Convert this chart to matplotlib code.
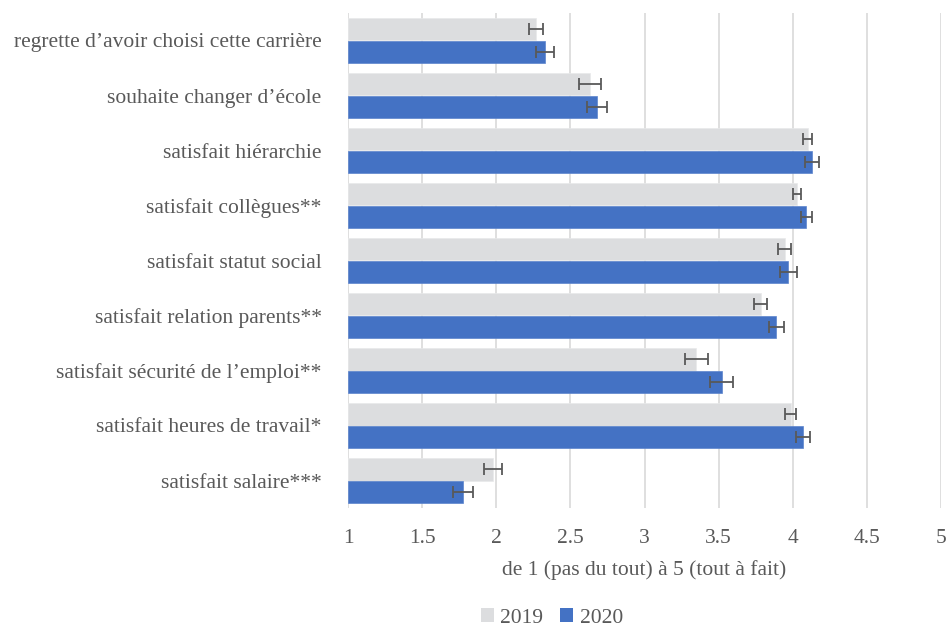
import matplotlib
matplotlib.use("Agg")
import matplotlib.pyplot as plt
import numpy as np
from matplotlib.patches import Patch

categories = [
    "regrette d\u2019avoir choisi cette carrière",
    "souhaite changer d\u2019école",
    "satisfait hiérarchie",
    "satisfait collègues**",
    "satisfait statut social",
    "satisfait relation parents**",
    "satisfait sécurité de l\u2019emploi**",
    "satisfait heures de travail*",
    "satisfait salaire***",
]
values_2019 = [2.27, 2.63, 4.10, 4.03, 3.945, 3.785, 3.35, 3.985, 1.98]
values_2020 = [2.33, 2.68, 4.13, 4.09, 3.97, 3.89, 3.52, 4.07, 1.775]
err_2019 = [0.047, 0.075, 0.03, 0.027, 0.045, 0.044, 0.077, 0.04, 0.062]
err_2020 = [0.06, 0.065, 0.05, 0.037, 0.056, 0.05, 0.077, 0.046, 0.067]
series_labels = ["2019", "2020"]
xticks = [1, 1.5, 2, 2.5, 3, 3.5, 4, 4.5, 5]
xtick_labels = ["1", "1.5", "2", "2.5", "3", "3.5", "4", "4.5", "5"]
xlabel = "de 1 (pas du tout) à 5 (tout à fait)"

c2019 = "#DCDDDF"
c2020 = "#4472C4"
txt = "#595959"
font = ["Liberation Serif", "DejaVu Serif"]
fs = 15.5

fig = plt.figure(figsize=(9.49, 6.28), dpi=100)
ax = fig.add_axes([348 / 949, 1 - 508 / 628, (941 - 348) / 949, (508 - 13) / 628])

n = len(categories)
y = np.arange(n)
h = 0.404
base = 1
w19 = [v - base for v in values_2019]
w20 = [v - base for v in values_2020]
ekw = dict(ecolor="#595959", elinewidth=1.3, capsize=4, capthick=1.3)
ax.barh(y - h / 2, w19, height=h, left=base, color=c2019, xerr=err_2019,
        error_kw=ekw, edgecolor="#E8E9EA", linewidth=0.5, zorder=2)
ax.barh(y + h / 2, w20, height=h, left=base, color=c2020, xerr=err_2020,
        error_kw=ekw, edgecolor="#5B84CC", linewidth=0.5, zorder=2)

ax.set_xlim(1, 5)
ax.set_ylim(n - 0.5, -0.5)
ax.set_xticks(xticks)
ax.set_xticklabels(xtick_labels, family=font, fontsize=fs, color=txt)
ax.set_yticks(y)
ax.set_yticklabels(categories, family=font, fontsize=fs, color=txt)
ax.tick_params(axis="both", length=0)
ax.tick_params(axis="x", pad=15)
ax.tick_params(axis="y", pad=19)
ax.grid(axis="x", color="#D9D9D9", linewidth=1.2, zorder=0)
ax.set_axisbelow(True)
for s in ax.spines.values():
    s.set_visible(False)
ax.set_xlabel(xlabel, family=font, fontsize=fs, color=txt, labelpad=9)

handles = [Patch(facecolor=c2019, edgecolor="none"), Patch(facecolor=c2020, edgecolor="none")]
leg = fig.legend(handles, series_labels, loc="center", bbox_to_anchor=(552 / 949, 1 - 618 / 628),
                 ncol=2, frameon=False, prop={"family": font, "size": fs},
                 handlelength=0.6, handleheight=0.6, handletextpad=0.3, columnspacing=0.8,
                 labelcolor=txt, borderpad=0.1)

fig.savefig("out.png", dpi=100)
